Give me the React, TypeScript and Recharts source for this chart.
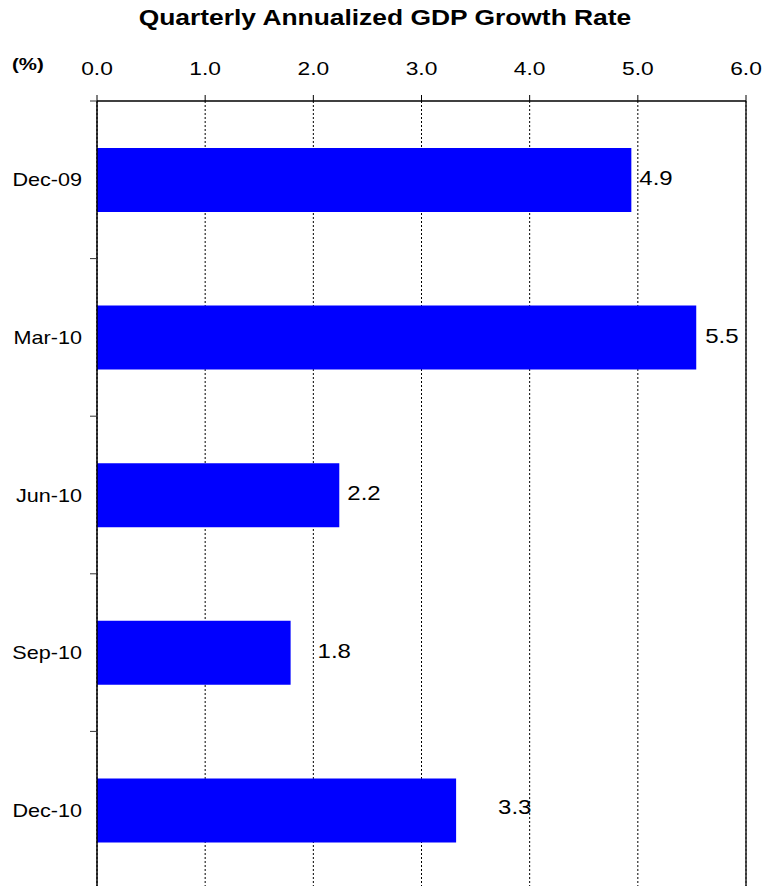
import React from "react";
import {
  BarChart,
  Bar,
  XAxis,
  YAxis,
  CartesianGrid,
  ReferenceLine,
  LabelList,
} from "recharts";

const categories = ["Dec-09", "Mar-10", "Jun-10", "Sep-10", "Dec-10"];
const growth = [4.94, 5.54, 2.24, 1.79, 3.32];
const xTicks = [0, 1, 2, 3, 4, 5, 6];

const title = "Quarterly Annualized GDP Growth Rate";
const unitLabel = "(%)";

// label nudges (as manually placed in the source)
const labelDx = [8, 9, 8, 27, 42];
const labelDy = [0, 0, 0, 0, -1];

const data = categories.map((c, i) => ({ cat: c, value: growth[i] }));

const FONT = "'Liberation Sans', Arial, Helvetica, sans-serif";
const SX = 1.2;

const W = 764;
const H = 892;
const M = { top: 71, right: 18, bottom: 3, left: 0 };
const X_AXIS_H = 30;
const Y_AXIS_W = 97;
const PLOT_TOP = M.top + X_AXIS_H;
const PLOT_H = H - PLOT_TOP - M.bottom;
const BAND = PLOT_H / categories.length;

const Stretched = ({ x, y, children, size, bold, anchor }: any) => (
  <text
    transform={`translate(${x},${y}) scale(${SX},1)`}
    x={0}
    y={0}
    textAnchor={anchor || "start"}
    fontFamily={FONT}
    fontSize={size}
    fontWeight={bold ? "bold" : "normal"}
    fill="#000"
  >
    {children}
  </text>
);

const XTick = (props: any) => {
  const { x, y, payload } = props;
  return (
    <Stretched x={x} y={y - 20} size={19} anchor="middle">
      {(Math.round(Number(payload.value) * 10) / 10).toFixed(1)}
    </Stretched>
  );
};

const YTick = (props: any) => {
  const { y, payload, index } = props;
  return (
    <g>
      <line x1={90} x2={97} y1={y - BAND / 2} y2={y - BAND / 2} stroke="#333" strokeWidth={1} />
      {index === categories.length - 1 && (
        <line x1={90} x2={97} y1={y + BAND / 2} y2={y + BAND / 2} stroke="#333" strokeWidth={1} />
      )}
      <Stretched x={82} y={y + 6.5} size={18} anchor="end">
        {payload.value}
      </Stretched>
    </g>
  );
};

const ValueLabel = (props: any) => {
  const { x, y, width, height, value, index } = props;
  return (
    <Stretched
      x={x + width + labelDx[index]}
      y={y + height / 2 + 5 + labelDy[index]}
      size={20}
      anchor="start"
    >
      {(Math.round(Number(value) * 10) / 10).toFixed(1)}
    </Stretched>
  );
};

export default function App() {
  return (
    <div style={{ position: "absolute", left: 0, top: 0, width: W, height: H, background: "#fff" }}>
      <BarChart
        width={W}
        height={H}
        data={data}
        layout="vertical"
        margin={M}
        barSize={64}
      >
        <CartesianGrid
          horizontal={false}
          vertical={true}
          stroke="#000"
          strokeDasharray="2 2"
          strokeWidth={1}
        />
        <XAxis
          type="number"
          orientation="top"
          domain={[0, 6]}
          ticks={xTicks}
          height={X_AXIS_H}
          tickSize={6}
          tickMargin={0}
          axisLine={{ stroke: "#000", strokeWidth: 1.5 }}
          tickLine={{ stroke: "#000", strokeWidth: 1 }}
          tick={<XTick />}
          interval={0}
        />
        <YAxis
          type="category"
          dataKey="cat"
          width={Y_AXIS_W}
          axisLine={{ stroke: "#000", strokeWidth: 1.5 }}
          tickLine={false}
          tick={<YTick />}
          interval={0}
        />
        <ReferenceLine x={6} stroke="#222" strokeWidth={1.5} ifOverflow="extendDomain" />
        <Bar dataKey="value" fill="#0000FF" isAnimationActive={false}>
          <LabelList dataKey="value" content={<ValueLabel />} />
        </Bar>
      </BarChart>
      <svg
        width={W}
        height={100}
        style={{ position: "absolute", left: 0, top: 0, pointerEvents: "none" }}
      >
        <Stretched x={385} y={25} size={22} bold anchor="middle">
          {title}
        </Stretched>
        <Stretched x={12} y={70} size={17} bold anchor="start">
          {unitLabel}
        </Stretched>
      </svg>
    </div>
  );
}
